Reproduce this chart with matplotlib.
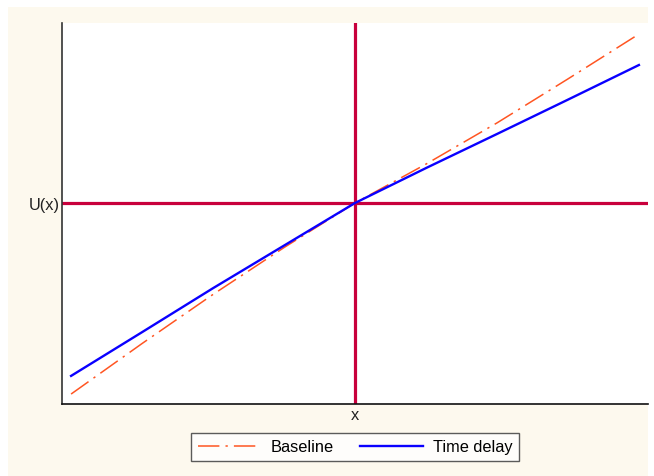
import matplotlib
matplotlib.use("Agg")
import matplotlib.pyplot as plt
from matplotlib.patches import Rectangle

plt.rcParams['font.family'] = ['Liberation Sans', 'DejaVu Sans']

# data (arbitrary units)
x_vals = [-1.0, -0.75, -0.5, -0.25, 0.0, 0.25, 0.5, 0.75, 1.0]
baseline = [-0.673, -0.495, -0.322, -0.157, 0.0, 0.137, 0.282, 0.437, 0.595]
time_delay = [-0.609, -0.455, -0.300, -0.150, 0.0, 0.123, 0.243, 0.364, 0.486]
series_names = ["Baseline", "Time delay"]
x_label = "x"
y_label = "U(x)"

W, H = 654, 477
fig = plt.figure(figsize=(W / 100, H / 100), dpi=100, facecolor='white')
fig.patches.append(Rectangle((8 / W, 0), 640 / W, 469 / H, transform=fig.transFigure,
                             facecolor='#fdf9ee', edgecolor='none', zorder=-10))

ax = fig.add_axes([62 / W, (H - 405) / H, 586 / W, 381 / H])
ax.set_facecolor('white')

crimson = '#c8003c'
ax.axvline(0, color=crimson, lw=2.3, zorder=1)
ax.axhline(0, color=crimson, lw=2.3, zorder=1)

ax.plot(x_vals, baseline, color='#ff5522', lw=1.1, linestyle=(0, (14, 4, 1.5, 4)),
        label=series_names[0], zorder=3)
ax.plot(x_vals, time_delay, color='#0a00ff', lw=1.7, label=series_names[1], zorder=4)

ax.set_xlim(-1.032, 1.032)
ax.set_ylim(-0.708, 0.634)

ax.set_xticks([0])
ax.set_xticklabels([x_label])
ax.set_yticks([0])
ax.set_yticklabels([y_label])
ax.tick_params(axis='y', length=0, labelsize=11.8, pad=1.5, colors='#222222')
ax.tick_params(axis='x', length=0, labelsize=11.8, pad=2.5, colors='#222222')

for s in ['top', 'right']:
    ax.spines[s].set_visible(False)
ax.spines['left'].set_color('#333333')
ax.spines['bottom'].set_color('#111111')
ax.spines['left'].set_linewidth(1.2)
ax.spines['bottom'].set_linewidth(1.2)

leg = fig.legend(loc='center', bbox_to_anchor=(355 / W, (H - 448) / H), ncol=2,
                 fontsize=11.8, frameon=True, fancybox=False, edgecolor='#333333',
                 handlelength=3.85, columnspacing=1.6, handletextpad=0.6,
                 borderpad=0.42)
leg.get_frame().set_linewidth(1.0)

fig.savefig('out.png', dpi=100, facecolor=fig.get_facecolor())
